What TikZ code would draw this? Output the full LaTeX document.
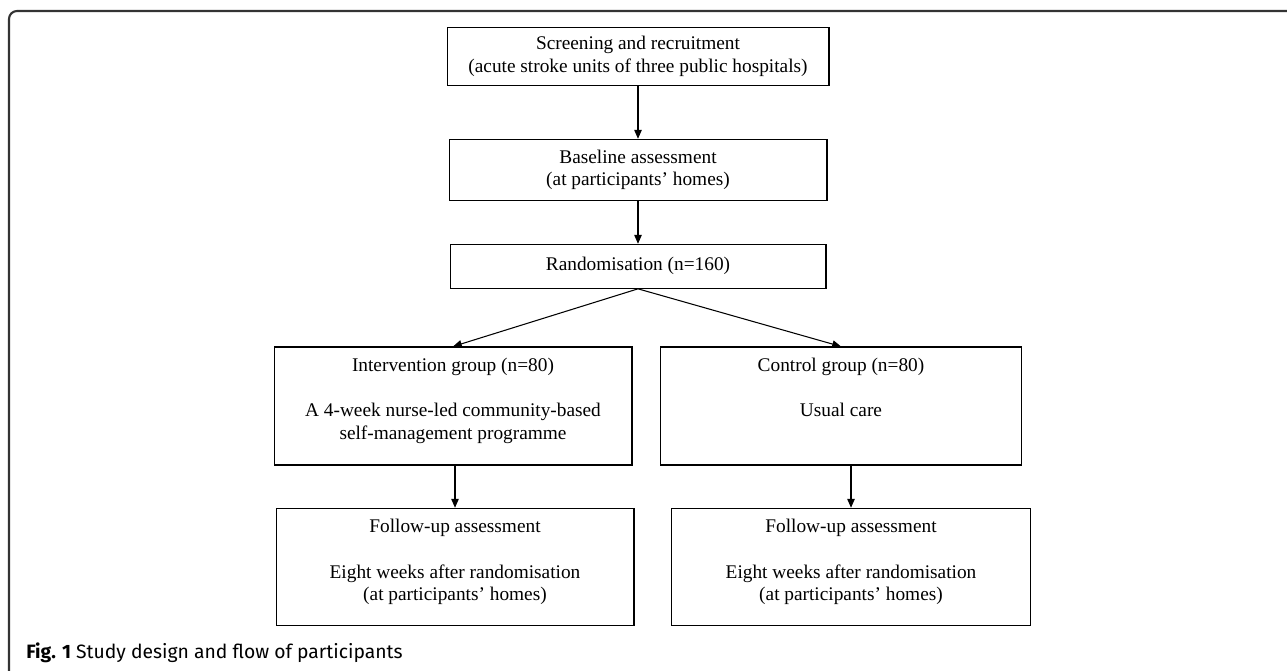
\documentclass[tikz,border=0pt]{standalone}
\usepackage{fontspec}
\setmainfont{Liberation Serif}
\newfontfamily\capfont{Fira Sans}
\usepackage{tikz}
\usetikzlibrary{arrows.meta,calc}

\tikzset{
	flowbox/.style={draw=black, line width=0.6pt, minimum width=#1, inner sep=0pt},
	flowtext/.style={align=center, font=\fontsize{11}{13}\selectfont},
	flowarrow/.style={draw=black, line width=0.6pt, -{Triangle[length=5pt,width=4.2pt]}}
}

\begin{document}
\begin{tikzpicture}[x=0.02cm, y=-0.02cm]
	
	% Define the page and the frame
	\useasboundingbox (0,0) rectangle (1287,670);
	\draw[line width=1.2pt, draw=black!80, rounded corners=0.16cm] (9,11) rectangle (1310,690);
	
	% Top column of boxes
	\node[flowbox=7.64cm, minimum height=1.17cm, flowtext] (screen) at (638,56.5)
		{Screening and recruitment\\(acute stroke units of three public hospitals)};
	\node[flowbox=7.56cm, minimum height=1.22cm, flowtext] (baseline) at (638,169.8)
		{Baseline assessment\\(at participants' homes)};
	\node[flowbox=7.52cm, minimum height=0.88cm, flowtext] (random) at (638,266.3)
		{Randomisation (n=160)};
	
	% The two groups
	\node[flowbox=7.16cm, minimum height=2.36cm] (interv) at (453,406) {};
	\node[flowbox=7.22cm, minimum height=2.36cm] (control) at (841,406) {};
	\node[flowtext, anchor=north] (intervtxt) at ($(interv.north)+(0,5)$)
		{Intervention group (n=80)\\[13pt]A 4-week nurse-led community-based\\self-management programme};
	\node[flowtext, anchor=north] (controltxt) at ($(control.north)+(0,5)$)
		{Control group (n=80)\\[13pt]Usual care};
	
	% Follow-up boxes
	\node[flowbox=7.16cm, minimum height=2.35cm] (follow1) at (455,567) {};
	\node[flowbox=7.18cm, minimum height=2.35cm] (follow2) at (851,567) {};
	\node[flowtext, anchor=north] (follow1txt) at ($(follow1.north)+(0,5)$)
		{Follow-up assessment\\[13pt]Eight weeks after randomisation\\(at participants' homes)};
	\node[flowtext, anchor=north] (follow2txt) at ($(follow2.north)+(0,5)$)
		{Follow-up assessment\\[13pt]Eight weeks after randomisation\\(at participants' homes)};
	
	% Draw the arrows
	\draw[flowarrow] (screen) -- (baseline);
	\draw[flowarrow] (baseline) -- (random);
	\draw[flowarrow] (random.south) -- (interv.north);
	\draw[flowarrow] (random.south) -- (control.north);
	\draw[flowarrow] (interv.south -| follow1.north) -- (follow1.north);
	\draw[flowarrow] (follow2.north |- control.south) -- (follow2.north);
	
	% Caption
	\node[anchor=base west, inner sep=0pt, font=\capfont\fontsize{11}{12}\selectfont] (caption) at (26,658)
		{\textbf{Fig. 1} Study design and flow of participants};
	
\end{tikzpicture}
\end{document}
